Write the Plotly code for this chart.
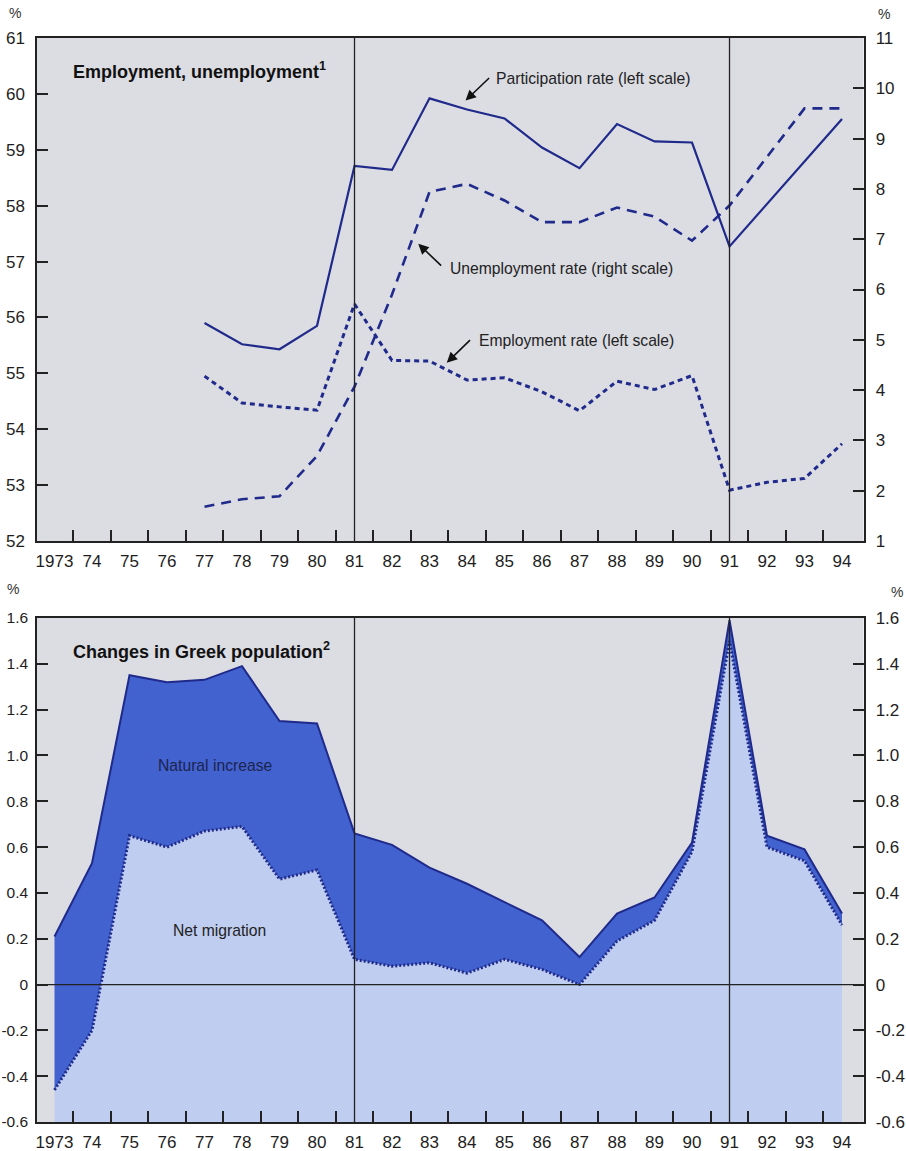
import plotly.graph_objects as go

W, H = 906, 1151          # browser window / figure size

# ---------------- data ----------------
years_top = list(range(1977, 1995))
participation = [55.90, 55.52, 55.43, 55.85, 58.71, 58.64, 59.92, 59.72, 59.56,
                 59.04, 58.67, 59.46, 59.15, 59.13, 57.27, 58.03, 58.80, 59.55]
employment = [54.95, 54.47, 54.40, 54.34, 56.24, 55.23, 55.22, 54.88, 54.92,
              54.67, 54.33, 54.86, 54.71, 54.96, 52.91, 53.05, 53.12, 53.74]
unemployment = [1.68, 1.83, 1.89, 2.69, 4.07, 5.90, 7.94, 8.10, 7.77,
                7.34, 7.34, 7.63, 7.45, 6.97, 7.67, 8.63, 9.60, 9.60]

years_bot = list(range(1973, 1995))
total_change = [0.21, 0.53, 1.35, 1.32, 1.33, 1.39, 1.15, 1.14, 0.66, 0.61, 0.51,
                0.44, 0.36, 0.28, 0.12, 0.31, 0.38, 0.62, 1.59, 0.65, 0.59, 0.31]
net_migration = [-0.46, -0.20, 0.65, 0.60, 0.67, 0.69, 0.46, 0.50, 0.11, 0.08, 0.095,
                 0.05, 0.11, 0.066, 0.0, 0.19, 0.28, 0.58, 1.50, 0.60, 0.54, 0.26]

x_tickvals = list(range(1973, 1995))
x_ticktext = ["1973"] + [str(y)[2:] for y in range(1974, 1995)]
half_years = [y + 0.5 for y in range(1973, 1994)]

top_left_ticks = list(range(52, 62))
top_right_ticks = list(range(1, 12))
bot_tickvals = [-0.6, -0.4, -0.2, 0, 0.2, 0.4, 0.6, 0.8, 1.0, 1.2, 1.4, 1.6]
bot_ticktext = ["-0.6", "-0.4", "-0.2", "0", "0.2", "0.4", "0.6", "0.8", "1.0", "1.2", "1.4", "1.6"]

X_RANGE = [1972.533, 1994.573]
TOP_L_RANGE = [52, 61]
TOP_R_RANGE = [1, 11]
BOT_RANGE = [-0.6, 1.6]
break_years = [1981, 1991]

# ---------------- style ----------------
NAVY = "#1f2a8a"
DARK_FILL = "#4262cf"
LIGHT_FILL = "#bfcdf0"
BG = "#dcdce3"
FONT = "Liberation Sans, Arial, sans-serif"
TXT = "#1e1e1e"


def px_x(p):
    return p / W


def px_y(p):
    return 1 - p / H


fig = go.Figure()

# top panel
fig.add_trace(go.Scatter(x=years_top, y=participation, mode="lines",
                         line=dict(color=NAVY, width=2.2), xaxis="x", yaxis="y",
                         showlegend=False, hoverinfo="skip"))
fig.add_trace(go.Scatter(x=years_top, y=employment, mode="lines",
                         line=dict(color=NAVY, width=3, dash="5px,4px"), xaxis="x", yaxis="y",
                         showlegend=False, hoverinfo="skip"))
fig.add_trace(go.Scatter(x=years_top, y=unemployment, mode="lines",
                         line=dict(color=NAVY, width=2.6, dash="10px,7px"), xaxis="x", yaxis="y2",
                         showlegend=False, hoverinfo="skip"))

# bottom panel
base = [BOT_RANGE[0]] * len(years_bot)
fig.add_trace(go.Scatter(x=years_bot, y=base, mode="lines", line=dict(width=0, color=LIGHT_FILL),
                         xaxis="x2", yaxis="y3", showlegend=False, hoverinfo="skip"))
fig.add_trace(go.Scatter(x=years_bot, y=net_migration, mode="lines", line=dict(width=0, color=LIGHT_FILL),
                         fill="tonexty", fillcolor=LIGHT_FILL,
                         xaxis="x2", yaxis="y3", showlegend=False, hoverinfo="skip"))
fig.add_trace(go.Scatter(x=years_bot, y=total_change, mode="lines", line=dict(width=2, color=NAVY),
                         fill="tonexty", fillcolor=DARK_FILL,
                         xaxis="x2", yaxis="y3", showlegend=False, hoverinfo="skip"))
fig.add_trace(go.Scatter(x=years_bot, y=net_migration, mode="lines",
                         line=dict(width=3, color=NAVY, dash="2px,2px"),
                         xaxis="x2", yaxis="y3", showlegend=False, hoverinfo="skip"))
fig.add_trace(go.Scatter(x=years_bot, y=total_change, mode="lines", line=dict(width=0),
                         opacity=0, xaxis="x2", yaxis="y4", showlegend=False, hoverinfo="skip"))

xdom = [px_x(37), px_x(863.5)]
top_dom = [px_y(541), px_y(38)]
bot_dom = [px_y(1122), px_y(618)]

tickfont = dict(family=FONT, size=17, color=TXT)


def xaxis_cfg(anchor):
    return dict(domain=xdom, anchor=anchor, range=X_RANGE, tickmode="array",
                tickvals=x_tickvals, ticktext=x_ticktext, ticks="",
                minor=dict(tickmode="array", tickvals=half_years, ticks="inside",
                           ticklen=11, tickwidth=1.5, tickcolor="#222"),
                showline=True, linecolor="#222", linewidth=1.5, mirror=True,
                showgrid=False, zeroline=False, tickfont=tickfont,
                ticklabelstandoff=4, automargin=False)


def yaxis_cfg(dom, rng, side, anchor, tickvals, ticktext=None, overlaying=None,
              font=None, standoff=7):
    d = dict(domain=dom, range=rng, side=side, anchor=anchor, tickmode="array",
             tickvals=tickvals, ticks="inside", ticklen=11, tickwidth=1.5,
             tickcolor="#222", showline=True, linecolor="#222", linewidth=1.5,
             showgrid=False, zeroline=False, tickfont=font or tickfont,
             ticklabelstandoff=standoff, automargin=False)
    if ticktext is not None:
        d["ticktext"] = ticktext
    if overlaying:
        d["overlaying"] = overlaying
    return d


fig.update_layout(
    template="none",
    width=W, height=H,
    margin=dict(l=0, r=0, t=0, b=0, autoexpand=False),
    paper_bgcolor="white",
    plot_bgcolor=BG,
    font=dict(family=FONT, color=TXT),
    showlegend=False,
    xaxis=xaxis_cfg("y"),
    xaxis2=xaxis_cfg("y3"),
    yaxis=yaxis_cfg(top_dom, TOP_L_RANGE, "left", "x", top_left_ticks),
    yaxis2=yaxis_cfg(top_dom, TOP_R_RANGE, "right", "x", top_right_ticks, overlaying="y"),
    yaxis3=yaxis_cfg(bot_dom, BOT_RANGE, "left", "x2", bot_tickvals, bot_ticktext,
                     font=dict(family=FONT, size=15.5, color=TXT), standoff=4),
    yaxis4=yaxis_cfg(bot_dom, BOT_RANGE, "right", "x2", bot_tickvals, bot_ticktext, overlaying="y3"),
)

shapes = []
for yr in break_years:
    shapes.append(dict(type="line", xref="x", yref="y domain", x0=yr, x1=yr, y0=0, y1=1,
                       line=dict(color="#222", width=1.3), layer="above"))
    shapes.append(dict(type="line", xref="x2", yref="y3 domain", x0=yr, x1=yr, y0=0, y1=1,
                       line=dict(color="#222", width=1.3), layer="above"))
shapes.append(dict(type="line", xref="x2 domain", yref="y3", x0=0, x1=1, y0=0, y1=0,
                   line=dict(color="#222", width=1.3), layer="above"))
fig.update_layout(shapes=shapes)

ann = []
# percent signs
for (px, py) in [(15, 13), (884, 14), (13, 589), (897, 592)]:
    ann.append(dict(text="%", xref="paper", yref="paper", x=px_x(px), y=px_y(py),
                    showarrow=False, font=dict(family=FONT, size=14, color="#333"),
                    xanchor="center", yanchor="middle"))

# titles
ann.append(dict(text="<b>Employment, unemployment<sup>1</sup></b>", xref="x", yref="y",
                x=1973.44, y=60.41, xanchor="left", yanchor="middle", showarrow=False,
                font=dict(family=FONT, size=18, color="#111")))
ann.append(dict(text="<b>Changes in Greek population<sup>2</sup></b>", xref="x2", yref="y3",
                x=1973.44, y=1.46, xanchor="left", yanchor="middle", showarrow=False,
                font=dict(family=FONT, size=18, color="#111")))

lab_font = dict(family=FONT, size=15.7, color="#222")
# labels with arrows (top panel, left-scale coordinates)
labels = [
    ("Participation rate (left scale)", 1984.72, 60.27, (1984.63, 60.31), (1983.96, 59.88)),
    ("Unemployment rate (right scale)", 1983.48, 56.87, (1983.35, 56.90), (1982.70, 57.32)),
    ("Employment rate (left scale)", 1984.26, 55.59, (1984.12, 55.62), (1983.46, 55.19)),
]
for text, tx, ty, tail, head in labels:
    ann.append(dict(text=text, xref="x", yref="y", x=tx, y=ty, xanchor="left",
                    yanchor="middle", showarrow=False, font=lab_font))
    ann.append(dict(text="", xref="x", yref="y", x=head[0], y=head[1],
                    axref="x", ayref="y", ax=tail[0], ay=tail[1],
                    showarrow=True, arrowhead=2, arrowsize=1.3, arrowwidth=1.6,
                    arrowcolor="#111"))

ann.append(dict(text="Natural increase", xref="x2", yref="y3", x=1977.28, y=0.958,
                showarrow=False, font=dict(family=FONT, size=15.7, color="#1c2450")))
ann.append(dict(text="Net migration", xref="x2", yref="y3", x=1977.41, y=0.238,
                showarrow=False, font=dict(family=FONT, size=15.7, color="#222")))

fig.update_layout(annotations=ann)

fig.write_html("out.html", config={"displayModeBar": False},
               post_script="document.body.style.margin='0';document.body.style.overflow='hidden';")
